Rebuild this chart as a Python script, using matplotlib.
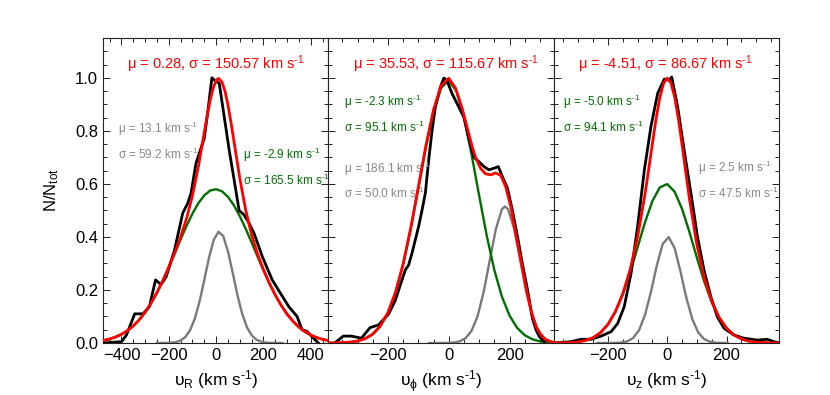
import matplotlib
matplotlib.use("Agg")
import matplotlib.pyplot as plt
from matplotlib.ticker import MultipleLocator, FormatStrFormatter

plt.rcParams['font.family'] = ['Liberation Sans', 'DejaVu Sans']
plt.rcParams['mathtext.fontset'] = 'custom'
plt.rcParams['mathtext.rm'] = 'Liberation Sans'
plt.rcParams['mathtext.it'] = 'Liberation Sans'
plt.rcParams['mathtext.bf'] = 'Liberation Sans:bold'

# ---------------- Panel 1 : v_R ----------------
vr_data_x = [-478, -400, -379, -344, -309, -282, -256, -233, -211, -176, -141, -120, -106, -85, -71, -50,
             -36, -18, -1, 13, 34, 55, 76, 97, 118, 139, 160, 195, 237, 272, 307, 342, 363, 382, 405, 426, 432]
vr_data_y = [0.0, 0.005, 0.03, 0.11, 0.11, 0.137, 0.238, 0.22, 0.25, 0.35, 0.49, 0.527, 0.565, 0.678, 0.716, 0.772,
             0.867, 1.0, 0.986, 0.98, 0.854, 0.728, 0.615, 0.50, 0.483, 0.452, 0.414, 0.326, 0.238, 0.187, 0.137, 0.10,
             0.05, 0.045, 0.024, 0.005, 0.0]

vr_green_x = [-475, -450, -425, -400, -375, -350, -325, -300, -275, -250, -225, -200, -175, -150, -125, -100, -75,
              -50, -25, 0, 25, 50, 75, 100, 125, 150, 175, 200, 225, 250, 275, 300, 325, 350, 375, 400, 425, 450, 475]
vr_green_y = [0.0099, 0.0151, 0.0225, 0.0327, 0.0464, 0.0644, 0.0874, 0.1158, 0.1502, 0.1902, 0.2357, 0.2855,
              0.3377, 0.3907, 0.4417, 0.4881, 0.5273, 0.5570, 0.5749, 0.5799, 0.5718, 0.5512, 0.5192, 0.4780,
              0.4303, 0.3785, 0.3255, 0.2736, 0.2247, 0.1805, 0.1416, 0.1086, 0.0815, 0.0597, 0.0428, 0.0300,
              0.0205, 0.0137, 0.0090]

vr_gray_x = [-250, -230, -210, -190, -170, -150, -130, -110, -90, -70, -50, -30, -10, 10, 30, 50, 70, 90, 110,
             130, 150, 170, 190, 210, 230, 250, 280]
vr_gray_y = [0.0, 0.0001, 0.0003, 0.0012, 0.0035, 0.0094, 0.0226, 0.0484, 0.0922, 0.1568, 0.2380, 0.3223, 0.3893,
             0.4194, 0.4032, 0.3458, 0.2646, 0.1806, 0.1100, 0.0597, 0.0290, 0.0125, 0.0048, 0.0016, 0.0005, 0.0001, 0.0]

vr_red_x = [-475, -450, -425, -400, -375, -350, -325, -300, -275, -250, -225, -200, -175, -150, -125, -100, -75,
            -50, -37.5, -25, -12.5, 0, 10, 25, 37.5, 50, 62.5, 75, 100, 125, 150, 175, 200, 225, 250, 275, 300, 325,
            350, 375, 400, 425, 450, 475]
vr_red_y = [0.0099, 0.0151, 0.0225, 0.0327, 0.0464, 0.0644, 0.0874, 0.1158, 0.1502, 0.1902, 0.2358, 0.2861, 0.3404,
            0.4001, 0.4694, 0.5558, 0.6661, 0.7950, 0.8590, 0.9163, 0.9615, 0.9898, 0.9976, 0.9834, 0.9487, 0.8970,
            0.8329, 0.7623, 0.6210, 0.5007, 0.4075, 0.3355, 0.2765, 0.2255, 0.1807, 0.1416, 0.1086, 0.0815, 0.0597,
            0.0428, 0.0300, 0.0205, 0.0137, 0.0090]

# ---------------- Panel 2 : v_phi ----------------
vphi_data_x = [-375, -347, -320, -287, -259, -231, -198, -176, -143, -132, -121, -110, -99, -88, -77, -66, -55, -44,
               -27, -16, -6, 11, 33, 50, 66, 83, 99, 116, 132, 149, 163, 176, 193, 209, 226, 242, 259, 275, 287,
               298, 314]
vphi_data_y = [0.0, 0.026, 0.026, 0.018, 0.058, 0.068, 0.109, 0.160, 0.275, 0.294, 0.338, 0.389, 0.44, 0.50, 0.565,
               0.69, 0.80, 0.89, 0.967, 0.999, 0.99, 0.94, 0.89, 0.85, 0.77, 0.70, 0.684, 0.665, 0.653, 0.659, 0.665,
               0.628, 0.584, 0.502, 0.401, 0.30, 0.20, 0.093, 0.049, 0.024, 0.005]

vphi_green_x = [-395, -375, -350, -325, -300, -275, -250, -225, -200, -175, -150, -125, -100, -75, -50, -25, 0, 25,
                50, 75, 100, 125, 150, 175, 200, 225, 250, 275, 300, 325, 345]
vphi_green_y = [0.0002, 0.0005, 0.0012, 0.0031, 0.0074, 0.0162, 0.0333, 0.0638, 0.1141, 0.1903, 0.2964, 0.4308,
                0.5842, 0.7391, 0.8730, 0.9622, 0.9897, 0.9500, 0.8511, 0.7115, 0.5551, 0.4041, 0.2746, 0.1741,
                0.1031, 0.0569, 0.0293, 0.0141, 0.0063, 0.0027, 0.0013]

vphi_gray_x = [-65, -45, -25, -5, 15, 35, 55, 75, 95, 115, 135, 155, 175, 185, 195, 215, 235, 255, 275, 295, 315,
               335, 345]
vphi_gray_y = [0.0, 0.0, 0.0001, 0.0004, 0.0016, 0.0057, 0.0175, 0.0458, 0.1019, 0.1933, 0.3124, 0.4302, 0.5048,
               0.5150, 0.5048, 0.4302, 0.3124, 0.1933, 0.1019, 0.0458, 0.0175, 0.0057, 0.0031]

vphi_red_x = [-395, -375, -350, -325, -300, -275, -250, -225, -200, -175, -150, -125, -100, -75, -50, -25, 0, 22,
              44, 61, 77, 88, 105, 121, 138, 154, 171, 187, 204, 220, 237, 253, 270, 287, 303, 320, 345]
vphi_red_y = [0.0002, 0.0005, 0.0012, 0.0031, 0.0074, 0.0162, 0.0333, 0.0640, 0.1145, 0.191, 0.298, 0.433, 0.588,
              0.745, 0.880, 0.970, 0.998, 0.962, 0.885, 0.81, 0.74, 0.70, 0.658, 0.638, 0.634, 0.641, 0.632, 0.590,
              0.514, 0.414, 0.313, 0.213, 0.125, 0.062, 0.030, 0.011, 0.002]

# ---------------- Panel 3 : v_z ----------------
vz_data_x = [-380, -324, -290, -257, -223, -189, -167, -145, -122, -100, -77, -55, -32, -10, 7, 15, 35, 57, 80,
             102, 124, 147, 169, 192, 225, 259, 304, 337, 360, 377]
vz_data_y = [0.0, 0.005, 0.014, 0.014, 0.026, 0.043, 0.074, 0.137, 0.263, 0.439, 0.653, 0.816, 0.942, 0.995, 0.992,
             1.003, 0.892, 0.728, 0.565, 0.401, 0.275, 0.175, 0.099, 0.055, 0.030, 0.018, 0.011, 0.014, 0.005, 0.001]

vz_green_x = [-383, -375, -350, -325, -300, -275, -250, -225, -200, -175, -150, -125, -100, -75, -50, -25, 0, 25,
              50, 75, 100, 125, 150, 175, 200, 225, 250, 275, 300, 325, 350, 377]
vz_green_y = [0.0002, 0.0003, 0.0007, 0.0018, 0.0044, 0.0098, 0.0202, 0.0390, 0.0701, 0.1173, 0.1831, 0.2661,
              0.3604, 0.4550, 0.5352, 0.5866, 0.5992, 0.5703, 0.5058, 0.4180, 0.3220, 0.2311, 0.1545, 0.0963,
              0.0559, 0.0303, 0.0153, 0.0072, 0.0031, 0.0013, 0.0005, 0.0002]

vz_gray_x = [-235, -215, -195, -175, -155, -135, -115, -95, -75, -55, -35, -15, 5, 25, 45, 65, 85, 105, 125, 145,
             165, 185, 205]
vz_gray_y = [0.0, 0.0, 0.0001, 0.0004, 0.0016, 0.0060, 0.0188, 0.0486, 0.1057, 0.1922, 0.2929, 0.3738, 0.3994,
             0.3576, 0.2680, 0.1683, 0.0885, 0.0390, 0.0144, 0.0044, 0.0011, 0.0002, 0.0]

vz_red_x = [-383, -375, -350, -325, -300, -275, -250, -225, -200, -175, -150, -125, -100, -75, -62.5, -50, -37.5,
            -25, -12.5, 0, 12.5, 25, 37.5, 50, 62.5, 75, 100, 125, 150, 175, 200, 225, 250, 275, 300, 325, 350, 377]
vz_red_y = [0.0002, 0.0003, 0.0007, 0.0018, 0.0044, 0.0098, 0.0202, 0.0390, 0.0701, 0.1177, 0.1854, 0.2770,
            0.3994, 0.5607, 0.6546, 0.7524, 0.8458, 0.9249, 0.9786, 0.9986, 0.9809, 0.9279, 0.8467, 0.7484,
            0.6440, 0.5428, 0.3706, 0.2455, 0.1577, 0.0968, 0.0560, 0.0303, 0.0153, 0.0072, 0.0031, 0.0013,
            0.0005, 0.0002]

# ---------------- Labels ----------------
SUP = r'$^{\text{-}1}$'
titles = ['μ = 0.28, σ = 150.57 km s' + SUP,
          'μ = 35.53, σ = 115.67 km s' + SUP,
          'μ = -4.51, σ = 86.67 km s' + SUP]
green_labels = [('μ = -2.9 km s' + SUP, 'σ = 165.5 km s' + SUP),
                ('μ = -2.3 km s' + SUP, 'σ = 95.1 km s' + SUP),
                ('μ = -5.0 km s' + SUP, 'σ = 94.1 km s' + SUP)]
gray_labels = [('μ = 13.1 km s' + SUP, 'σ = 59.2 km s' + SUP),
               ('μ = 186.1 km s' + SUP, 'σ = 50.0 km s' + SUP),
               ('μ = 2.5 km s' + SUP, 'σ = 47.5 km s' + SUP)]
xlabels = [r'$\upsilon_{\rm R}$ (km s' + SUP + ')',
           r'$\upsilon_{\phi}$ (km s' + SUP + ')',
           r'$\upsilon_{\rm z}$ (km s' + SUP + ')']
ylabel = r'N/N$_{\rm tot}$'
xticks = [[-400, -200, 0, 200, 400], [-200, 0, 200], [-200, 0, 200]]
xlims = [(-478, 474), (-396, 345), (-383, 377)]

panels = [
    (vr_data_x, vr_data_y, vr_green_x, vr_green_y, vr_gray_x, vr_gray_y, vr_red_x, vr_red_y),
    (vphi_data_x, vphi_data_y, vphi_green_x, vphi_green_y, vphi_gray_x, vphi_gray_y, vphi_red_x, vphi_red_y),
    (vz_data_x, vz_data_y, vz_green_x, vz_green_y, vz_gray_x, vz_gray_y, vz_red_x, vz_red_y),
]

# layout (axes fractions)
green_pos = [((0.620, 0.602), (0.620, 0.517)),
             ((0.070, 0.777), (0.070, 0.691)),
             ((0.043, 0.778), (0.043, 0.692))]
gray_pos = [((0.067, 0.690), (0.067, 0.603)),
            ((0.070, 0.558), (0.070, 0.474)),
            ((0.642, 0.562), (0.642, 0.474))]

RED = '#ff0000'
GREEN = '#006e00'
GRAY = '#7a7a7a'
GRAYTXT = '#888888'

fig = plt.figure(figsize=(8.30, 3.95), dpi=100)
left, right, bottom, top = 103 / 830, 779 / 830, 1 - 343 / 395, 1 - 38 / 395
w = (right - left) / 3
for i, (dx, dy, gx, gy, hx, hy, rx, ry) in enumerate(panels):
    ax = fig.add_axes([left + i * w, bottom, w, top - bottom])
    ax.plot(dx, dy, color='black', lw=2.0, zorder=3)
    ax.plot(hx, hy, color=GRAY, lw=1.7, zorder=2)
    ax.plot(gx, gy, color=GREEN, lw=1.7, zorder=2.5)
    ax.plot(rx, ry, color=RED, lw=2.0, zorder=4)
    ax.set_xlim(*xlims[i])
    ax.set_ylim(0, 1.15)
    ax.set_xticks(xticks[i])
    ax.xaxis.set_minor_locator(MultipleLocator(50))
    ax.yaxis.set_major_locator(MultipleLocator(0.2))
    ax.yaxis.set_minor_locator(MultipleLocator(0.05))
    ax.tick_params(which='both', direction='in', top=True, right=True, labelsize=12, width=0.7, color='#222222')
    ax.tick_params(which='major', length=5)
    ax.tick_params(which='minor', length=3)
    if i == 0:
        ax.yaxis.set_major_formatter(FormatStrFormatter('%.1f'))
        ax.set_ylabel(ylabel, fontsize=12, labelpad=10)
    else:
        ax.set_yticklabels([])
    ax.set_xlabel(xlabels[i], fontsize=12.5, labelpad=4)
    for s in ax.spines.values():
        s.set_linewidth(0.8)
        s.set_color('#222222')
    ax.text(0.108, 0.897, titles[i], color=RED, fontsize=10.5, transform=ax.transAxes, va='baseline', ha='left')
    for (p, t) in zip(green_pos[i], green_labels[i]):
        ax.text(p[0], p[1], t, color=GREEN, fontsize=8.5, transform=ax.transAxes, va='baseline', ha='left')
    for (p, t) in zip(gray_pos[i], gray_labels[i]):
        ax.text(p[0], p[1], t, color=GRAYTXT, fontsize=8.5, transform=ax.transAxes, va='baseline', ha='left')

fig.savefig('out.png', dpi=100)
